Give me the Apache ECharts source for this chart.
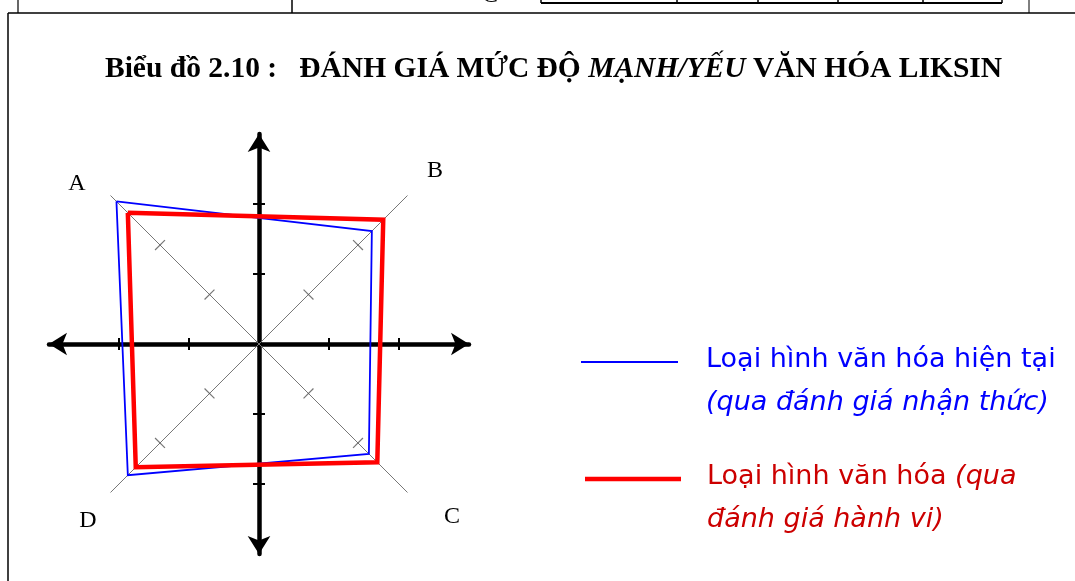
<!DOCTYPE html>
<html>
<head>
<meta charset="utf-8">
<script src="https://cdn.jsdelivr.net/npm/echarts@6/dist/echarts.min.js"></script>
<style>
html, body { margin: 0; padding: 0; background: #fff; }
#chart { width: 1075px; height: 581px; }
</style>
</head>
<body>
<div id="chart"></div>
<script>
// goc phan tu: A tren-trai, B tren-phai, C duoi-phai, D duoi-trai
const corners = ['A', 'B', 'C', 'D'];
const seriesNames = [
    'Loại hình văn hóa hiện tại (qua đánh giá nhận thức)',
    'Loại hình văn hóa (qua đánh giá hành vi)'
];
const currentValues = [28.8, 22.8, 22.2, 26.5];   // duong xanh
const behaviourValues = [26.5, 25.1, 23.9, 24.9]; // duong do
const diagonalTicks = [10, 20];
const axisTicks = [-20, -10, 10, 20];
const axisMax = 30;

const dirs = [[-1, 1], [1, 1], [1, -1], [-1, -1]];
const k = Math.SQRT1_2;

function toXY(v, i) {
    return [dirs[i][0] * v * k, dirs[i][1] * v * k];
}
function polygon(values) {
    const pts = values.map((v, i) => toXY(v, i));
    pts.push(pts[0]);
    return pts;
}

const chart = echarts.init(document.getElementById('chart'));

const tickStyle = { color: '#000', width: 2 };
function makeAxis(position, onZeroIdx, main) {
    return {
        type: 'value',
        min: -axisMax,
        max: axisMax,
        position: position,
        splitLine: { show: false },
        axisLabel: { show: false },
        axisLine: {
            show: main,
            onZero: true,
            onZeroAxisIndex: onZeroIdx,
            symbol: ['arrow', 'arrow'],
            symbolSize: [17, 18],
            symbolOffset: [0, 0],
            lineStyle: { color: '#000', width: 4.5 }
        },
        axisTick: { show: true, customValues: axisTicks, length: 6, lineStyle: tickStyle }
    };
}

const diagTickData = [];
corners.forEach((c, i) => {
    diagonalTicks.forEach(t => {
        diagTickData.push({ value: toXY(t, i), symbolRotate: (i % 2 === 0) ? -45 : 45 });
    });
});

const cornerPos = [[77, 184], [435, 171], [452, 517], [88, 521]];

const legendRich = (color) => ({
    n: { fontFamily: 'DejaVu Sans', fontSize: 27, lineHeight: 43, color: color },
    i: { fontFamily: 'DejaVu Sans', fontStyle: 'italic', fontSize: 27, lineHeight: 43, color: color }
});

const option = {
    backgroundColor: '#fff',
    animation: false,
    title: {
        text: '{b|Biểu đồ 2.10 :   ĐÁNH GIÁ MỨC ĐỘ }{bi|MẠNH/YẾU}{b| VĂN HÓA LIKSIN}',
        left: 105,
        top: 54,
        padding: 0,
        textStyle: {
            rich: {
                b: { fontFamily: 'Liberation Serif', fontWeight: 'bold', fontSize: 29.5, color: '#000' },
                bi: { fontFamily: 'Liberation Serif', fontWeight: 'bold', fontStyle: 'italic', fontSize: 29.5, color: '#000' }
            }
        }
    },
    legend: [
        {
            data: [{ name: seriesNames[0], icon: 'rect' }],
            left: 581,
            top: 346,
            padding: 0,
            itemWidth: 97,
            itemHeight: 2,
            selectedMode: false,
            formatter: () => '{n|Loại hình văn hóa hiện tại}\n{i|(qua đánh giá nhận thức)}',
            textStyle: { padding: [38, 0, 0, 23], rich: legendRich('#0000ff') }
        },
        {
            data: [{ name: seriesNames[1], icon: 'rect' }],
            left: 585,
            top: 463,
            padding: 0,
            itemWidth: 96,
            itemHeight: 4.5,
            selectedMode: false,
            formatter: () => '{n|Loại hình văn hóa }{i|(qua}\n{i|đánh giá hành vi)}',
            textStyle: { padding: [38, 0, 0, 21], rich: legendRich('#cc0000') }
        }
    ],
    grid: { left: 49, top: 134, width: 420, height: 420 },
    xAxis: [makeAxis('bottom', 0, true), makeAxis('top', 1, false)],
    yAxis: [makeAxis('left', 0, true), makeAxis('right', 1, false)],
    graphic: [
        // khung trang
        { type: 'line', shape: { x1: 8, y1: 13, x2: 1075, y2: 13 }, style: { stroke: '#000', lineWidth: 1.5 } },
        { type: 'line', shape: { x1: 8, y1: 13, x2: 8, y2: 581 }, style: { stroke: '#000', lineWidth: 1.5 } },
        { type: 'line', shape: { x1: 18, y1: 0, x2: 18, y2: 13 }, style: { stroke: '#000', lineWidth: 1.2 } },
        { type: 'line', shape: { x1: 292, y1: 0, x2: 292, y2: 13 }, style: { stroke: '#000', lineWidth: 1.5 } },
        { type: 'line', shape: { x1: 1029, y1: 0, x2: 1029, y2: 13 }, style: { stroke: '#000', lineWidth: 1 } },
        { type: 'line', shape: { x1: 541, y1: 3, x2: 1002, y2: 3 }, style: { stroke: '#000', lineWidth: 2 } },
        ...[541, 677, 758, 838, 923, 1002].map(x => ({
            type: 'line', shape: { x1: x, y1: 0, x2: x, y2: 3 }, style: { stroke: '#000', lineWidth: 1.5 }
        })),
        { type: 'text', x: 490, y: -4, style: { text: 'C', font: '24px "Liberation Serif"', fill: '#000', align: 'center', verticalAlign: 'middle' } },
        ...corners.map((c, i) => ({
            type: 'text',
            x: cornerPos[i][0],
            y: cornerPos[i][1],
            style: { text: c, font: '24px "Liberation Serif"', fill: '#000', align: 'center', verticalAlign: 'middle' }
        }))
    ],
    series: [
        {
            type: 'line', name: 'diag1', silent: true, symbol: 'none', z: 1,
            lineStyle: { color: '#777', width: 1 },
            data: [toXY(axisMax, 0), toXY(axisMax, 2)]
        },
        {
            type: 'line', name: 'diag2', silent: true, symbol: 'none', z: 1,
            lineStyle: { color: '#777', width: 1 },
            data: [toXY(axisMax, 3), toXY(axisMax, 1)]
        },
        {
            type: 'scatter', name: 'diagTicks', silent: true, z: 1,
            symbol: 'rect', symbolSize: [1.2, 14],
            itemStyle: { color: '#555' },
            data: diagTickData
        },
        {
            type: 'line', name: seriesNames[0], symbol: 'none', z: 3,
            color: '#0000ff',
            lineStyle: { color: '#0000ff', width: 1.8, join: 'miter' },
            data: polygon(currentValues)
        },
        {
            type: 'line', name: seriesNames[1], symbol: 'none', z: 4,
            color: '#ff0000',
            lineStyle: { color: '#ff0000', width: 4.5, join: 'miter' },
            data: polygon(behaviourValues)
        }
    ]
};
chart.setOption(option);
</script>
</body>
</html>
